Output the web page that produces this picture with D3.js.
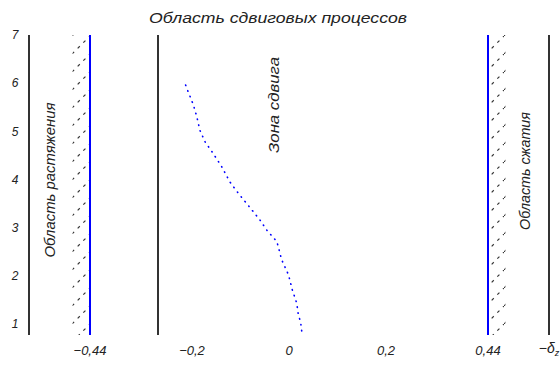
<!DOCTYPE html>
<html>
<head>
<meta charset="utf-8">
<script src="https://cdn.jsdelivr.net/npm/d3@7"></script>
<style>
  body { margin: 0; background: #fff; }
  text { font-family: "Liberation Sans", Arial, sans-serif; fill: #222; }
</style>
</head>
<body>
<svg id="chart" width="560" height="365"></svg>
<script>
(function () {

  'use strict';

  // ---------- data ----------
  var storeys = [1, 2, 3, 4, 5, 6, 7]; // y tick labels
  var xTicks = [-0.44, -0.2, 0, 0.2, 0.44];
  var xTickLabels = ['\u22120,44', '\u22120,2', '0', '0,2', '0,44'];
  var limitLines = [-0.44, 0.44]; // blue boundaries
  var frameLines = [-0.58, -0.28, 0.58]; // black verticals
  var hatchZones = [[-0.48, -0.44], [0.44, 0.48]];

  // shear curve: level vs displacement
  var level = [5.96, 5.82, 5.67, 5.51, 5.30, 5.03, 4.78, 4.55, 4.27, 3.95, 3.72,
    3.41, 3.16, 2.95, 2.71, 2.33, 2.02, 1.70, 1.43, 1.21, 1.03, 0.79];
  var shift = [-0.215, -0.209, -0.202, -0.196, -0.190, -0.184, -0.173, -0.157, -0.139,
    -0.122, -0.105, -0.080, -0.060, -0.046, -0.025, -0.015, -0.001, 0.007, 0.016,
    0.019, 0.024, 0.027];

  var title = 'Область сдвиговых процессов';

  // ---------- scales ----------
  var svg = d3.select('#chart');
  var top = 35, bottom = 335;

  var x = d3.scaleLinear()
    .domain([-0.58, -0.44, -0.2, 0, 0.2, 0.44, 0.58])
    .range([29, 90, 192, 289, 386, 488, 549]);
  var y = d3.scaleLinear().domain([0.77, 7]).range([bottom, top]);

  // hatch pattern
  var pat = svg.append('defs').append('pattern')
    .attr('id', 'hatch')
    .attr('patternUnits', 'userSpaceOnUse')
    .attr('width', 18).attr('height', 18);
  pat.append('line')
    .attr('x1', 0).attr('y1', 18).attr('x2', 18).attr('y2', 0)
    .attr('stroke', '#333').attr('stroke-width', 1.2)
    .attr('stroke-dasharray', '3,5');

  svg.selectAll('.hatch')
    .data(hatchZones)
    .enter().append('rect')
    .attr('class', 'hatch')
    .attr('x', function (d) { return x(d[0]); })
    .attr('width', function (d) { return x(d[1]) - x(d[0]); })
    .attr('y', top)
    .attr('height', bottom - top)
    .attr('fill', 'url(#hatch)');

  svg.selectAll('.frame')
    .data(frameLines)
    .enter().append('line')
    .attr('class', 'frame')
    .attr('x1', function (d) { return x(d); })
    .attr('x2', function (d) { return x(d); })
    .attr('y1', top).attr('y2', bottom)
    .attr('stroke', '#333').attr('stroke-width', 2);

  svg.selectAll('.limit')
    .data(limitLines)
    .enter().append('line')
    .attr('class', 'limit')
    .attr('x1', function (d) { return x(d); })
    .attr('x2', function (d) { return x(d); })
    .attr('y1', top).attr('y2', bottom)
    .attr('stroke', '#0000ff').attr('stroke-width', 2);

  // curve
  var pts = level.map(function (v, i) { return [shift[i], v]; });
  svg.append('path')
    .datum(pts)
    .attr('fill', 'none')
    .attr('stroke', '#0000ff')
    .attr('stroke-width', 1.6)
    .attr('stroke-linecap', 'round')
    .attr('stroke-dasharray', '0.5,5.5')
    .attr('d', d3.line()
      .x(function (d) { return x(d[0]); })
      .y(function (d) { return y(d[1]); }));

  // y labels
  svg.selectAll('.ylab')
    .data(storeys)
    .enter().append('text')
    .attr('class', 'ylab')
    .attr('x', 15)
    .attr('y', function (d) { return y(d); })
    .attr('dy', '0.35em')
    .attr('text-anchor', 'middle')
    .style('font-size', '12px')
    .style('font-style', 'italic')
    .text(function (d) { return d; });

  // x labels
  svg.selectAll('.xlab')
    .data(xTicks)
    .enter().append('text')
    .attr('class', 'xlab')
    .attr('x', function (d) { return x(d); })
    .attr('y', 355)
    .attr('text-anchor', 'middle')
    .style('font-size', '13px')
    .style('font-style', 'italic')
    .text(function (d, i) { return xTickLabels[i]; });

  var axisName = svg.append('text')
    .attr('x', 549).attr('y', 353)
    .attr('text-anchor', 'middle')
    .style('font-size', '14px')
    .style('font-style', 'italic');
  axisName.append('tspan').text('\u2212\u03b4');
  axisName.append('tspan').attr('dy', 3).style('font-size', '9px').text('z');

  // title
  svg.append('text')
    .attr('x', 278).attr('y', 23)
    .attr('text-anchor', 'middle')
    .attr('textLength', 258)
    .attr('lengthAdjust', 'spacingAndGlyphs')
    .style('font-size', '14px')
    .style('font-style', 'italic')
    .text(title);

  // region labels
  var regions = [
    { t: 'Область растяжения', cx: 50, cy: 180, len: 155 },
    { t: 'Зона сдвига', cx: 274, cy: 105, len: 96 },
    { t: 'Область сжатия', cx: 525, cy: 171, len: 118 }
  ];
  svg.selectAll('.region')
    .data(regions)
    .enter().append('text')
    .attr('class', 'region')
    .attr('transform', function (d) { return 'translate(' + d.cx + ',' + d.cy + ') rotate(-90)'; })
    .attr('dy', '0.35em')
    .attr('text-anchor', 'middle')
    .attr('textLength', function (d) { return d.len; })
    .attr('lengthAdjust', 'spacingAndGlyphs')
    .style('font-size', '14px')
    .style('font-style', 'italic')
    .text(function (d) { return d.t; });

})();
</script>
</body>
</html>
